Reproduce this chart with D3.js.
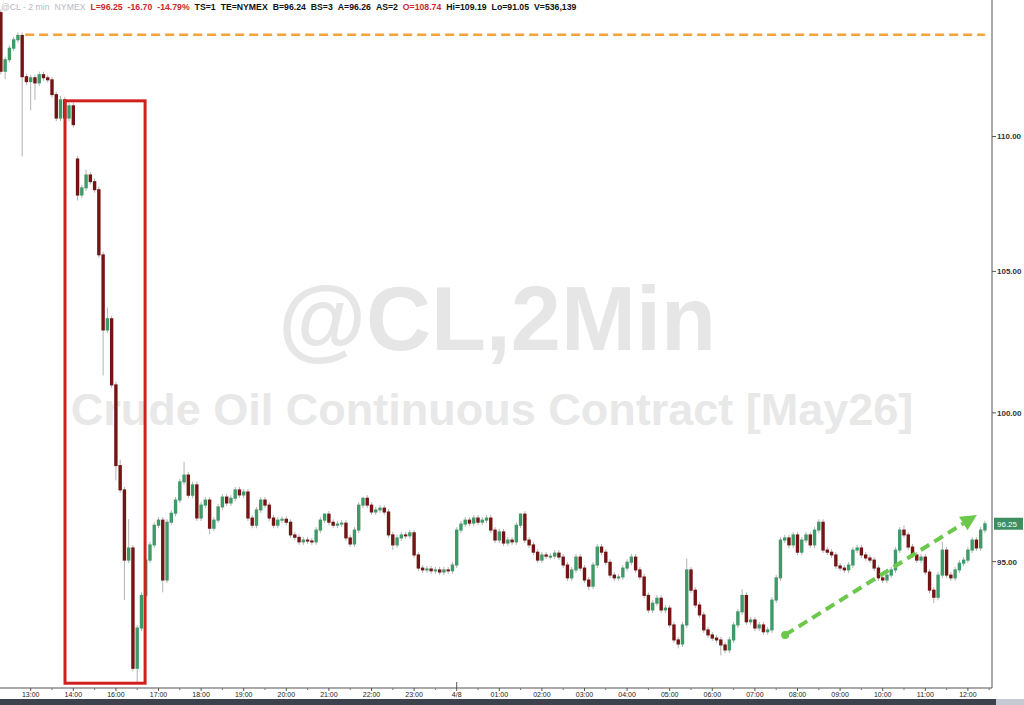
<!DOCTYPE html>
<html lang="en">
<head>
<meta charset="UTF-8">
<title>@CL - 2 min</title>
<script src="https://d3js.org/d3.v7.min.js"></script>
<style>
  body { margin: 0; background: #fff; }
  svg { display: block; font-family: "Liberation Sans", Arial, sans-serif; }
</style>
</head>
<body>
<svg id="chart" width="1024" height="705"></svg>
<script>
// 6-minute closes (bar 0 = 12:18)
const closes = [
  112.5, 112.95, 113.4, 113.73, 113.9, 112.29, 112.1, 112.25, 112.05, 112.37,
  112.25, 112.17, 111.6, 110.7, 111.4, 110.7, 111.17, 110.45, 107.8, 108.07,
  108.55, 108.3, 108.0, 105.6, 102.9, 103.3, 100.97, 98.2, 97.38, 95.05,
  95.45, 91.57, 92.85, 93.9, 95.05, 95.55, 96.2, 96.37, 94.4, 96.3,
  96.6, 97.04, 97.65, 97.88, 97.2, 97.55, 96.44, 96.87, 97.04, 96.1,
  96.37, 96.81, 97.14, 96.94, 97.1, 97.38, 97.21, 97.31, 96.44, 96.2,
  96.71, 97.04, 96.87, 96.44, 96.2, 96.37, 96.4, 96.3, 95.88, 95.8,
  95.65, 95.71, 95.68, 95.65, 96.04, 96.37, 96.57, 96.3, 96.2, 96.24,
  96.27, 95.78, 95.58, 96.04, 96.87, 97.1, 96.87, 96.64, 96.71, 96.77,
  96.64, 95.88, 95.55, 95.78, 95.88, 95.85, 95.95, 95.22, 94.79, 94.73,
  94.76, 94.7, 94.73, 94.66, 94.73, 94.7, 94.89, 96.04, 96.24, 96.37,
  96.27, 96.44, 96.3, 96.37, 96.44, 96.04, 95.71, 95.98, 95.61, 95.71,
  95.65, 96.2, 96.57, 95.71, 95.55, 95.31, 95.05, 95.22, 95.18, 95.18,
  95.28, 95.15, 94.89, 94.47, 94.73, 95.15, 94.79, 94.4, 94.2, 94.89,
  95.48, 95.31, 94.98, 94.56, 94.47, 94.5, 94.79, 94.98, 95.15, 94.73,
  94.5, 93.9, 93.43, 93.65, 93.81, 93.43, 93.49, 92.95, 92.47, 92.34,
  92.95, 94.73, 94.07, 93.59, 93.27, 92.79, 92.63, 92.53, 92.47, 92.31,
  92.15, 92.47, 92.95, 93.37, 93.9, 93.05, 93.11, 92.85, 92.95, 92.73,
  92.79, 93.75, 94.47, 95.71, 95.78, 95.55, 95.88, 95.31, 95.71, 95.88,
  95.55, 96.04, 96.3, 95.38, 95.31, 95.22, 94.86, 94.79, 94.73, 94.89,
  95.38, 95.45, 95.22, 95.12, 95.05, 94.79, 94.47, 94.4, 94.56, 94.73,
  95.38, 96.04, 95.88, 95.48, 95.22, 95.05, 95.15, 94.66, 94.07, 93.84,
  94.56, 95.38, 94.56, 94.47, 94.73, 94.95, 95.05, 95.38, 95.71, 95.45,
  96.04, 96.25
];
const firstOpen = 114.8;
const gapOpens = [[18, 109.15]];          // [bar, open] where price gapped
const wickHighs = [[14, 111.55], [20, 108.75], [25, 103.7], [28, 98.4], [30, 96.4],
  [43, 98.33], [76, 96.6], [85, 97.15], [122, 96.6], [161, 95.1], [174, 94.1],
  [212, 96.2], [221, 95.65]];
const wickLows = [[1, 112.2], [5, 109.25], [7, 111.0], [8, 111.4], [15, 110.35],
  [18, 107.6], [24, 101.3], [27, 97.7], [29, 93.75], [32, 91.08], [38, 94.0],
  [49, 95.9], [82, 95.48], [92, 95.38], [138, 94.07], [159, 92.2], [169, 91.98],
  [219, 93.65]];

const timeLabels = ["13:00", "14:00", "16:00", "17:00", "18:00", "19:00", "20:00",
  "21:00", "22:00", "23:00", "4/8", "01:00", "02:00", "03:00", "04:00", "05:00",
  "06:00", "07:00", "08:00", "09:00", "10:00", "11:00", "12:00"];
const priceTicks = [110, 105, 100, 95];
const lastPrice = 96.25;
const refLevel = 113.93;                 // orange dashed line
const refFromBar = 5.7, refToBar = 231;
const boxBars = [15.05, 33.85], boxPrices = [111.36, 91.1];
const trendStart = [184.1, 92.63], trendEnd = [229.1, 96.54];

const header = [
  ["@CL - 2 min", "#b9b9c2"], ["NYMEX", "#b9b9c2"],
  ["L=96.25", "#cc2a2a"], ["-16.70", "#cc2a2a"], ["-14.79%", "#cc2a2a"],
  ["TS=1", "#111"], ["TE=NYMEX", "#111"], ["B=96.24", "#111"], ["BS=3", "#111"],
  ["A=96.26", "#111"], ["AS=2", "#111"], ["O=108.74", "#cc2a2a"],
  ["Hi=109.19", "#111"], ["Lo=91.05", "#111"], ["V=536,139", "#111"]
];

const svg = d3.select("#chart");
const barsPerHour = 10, firstTickBar = 7;
const plotBottom = 688, axisX = 992;

const x = d3.scaleLinear().domain([0, 1]).range([0.88, 5.14]);
const y = d3.scaleLog().domain([90.95, 115.3]).range([plotBottom, 0]);

// watermark
svg.append("text").attr("x", 497).attr("y", 350).attr("text-anchor", "middle")
  .attr("font-size", 90).attr("font-weight", "bold").attr("fill", "#e6e6e6")
  .text("@CL,2Min");
svg.append("text").attr("x", 492).attr("y", 425).attr("text-anchor", "middle")
  .attr("font-size", 45).attr("font-weight", "bold").attr("fill", "#e8e8e8")
  .text("Crude Oil Continuous Contract [May26]");

// bars
const hiMap = new Map(wickHighs), loMap = new Map(wickLows), gapMap = new Map(gapOpens);
const bars = closes.map((c, i) => {
  const o = gapMap.has(i) ? gapMap.get(i) : (i === 0 ? firstOpen : closes[i - 1]);
  return { i, o, c, h: hiMap.get(i), l: loMap.get(i) };
});

const g = svg.append("g");
g.selectAll("line.wick").data(bars).enter().append("line")
  .attr("class", "wick")
  .attr("x1", d => x(d.i)).attr("x2", d => x(d.i))
  .attr("y1", d => d.h ? y(d.h) : y(Math.max(d.o, d.c)) - 3)
  .attr("y2", d => d.l ? y(d.l) : y(Math.min(d.o, d.c)) + 3)
  .attr("stroke", "#b3b3b3").attr("stroke-width", 1);

g.selectAll("rect.body").data(bars).enter().append("rect")
  .attr("class", "body")
  .attr("x", d => x(d.i) - 1.7).attr("width", 3.4)
  .attr("y", d => y(Math.max(d.o, d.c)) - 0.5)
  .attr("height", d => Math.max(2, Math.abs(y(d.o) - y(d.c)) + 1))
  .attr("fill", d => d.c >= d.o ? "#3f9a69" : "#741515");

// orange reference line
svg.append("line")
  .attr("x1", x(refFromBar)).attr("x2", x(refToBar))
  .attr("y1", y(refLevel)).attr("y2", y(refLevel))
  .attr("stroke", "#f2a33a").attr("stroke-width", 2.5)
  .attr("stroke-dasharray", "9,5");

// red box
svg.append("rect")
  .attr("x", x(boxBars[0])).attr("y", y(boxPrices[0]))
  .attr("width", x(boxBars[1]) - x(boxBars[0]))
  .attr("height", y(boxPrices[1]) - y(boxPrices[0]))
  .attr("fill", "none").attr("stroke", "#d11f1f").attr("stroke-width", 3);

// green trend arrow
const ax1 = x(trendStart[0]), ay1 = y(trendStart[1]);
const ax2 = x(trendEnd[0]), ay2 = y(trendEnd[1]);
const ang = Math.atan2(ay2 - ay1, ax2 - ax1);
const headLen = 16, headW = 8;
const bx = ax2 - headLen * Math.cos(ang), by = ay2 - headLen * Math.sin(ang);
svg.append("line")
  .attr("x1", ax1).attr("y1", ay1).attr("x2", bx).attr("y2", by)
  .attr("stroke", "#6bc84a").attr("stroke-width", 4)
  .attr("stroke-dasharray", "10,6");
svg.append("circle").attr("cx", ax1).attr("cy", ay1).attr("r", 4).attr("fill", "#6bc84a");
svg.append("polygon")
  .attr("points", [
    [ax2, ay2],
    [bx + headW * Math.sin(ang), by - headW * Math.cos(ang)],
    [bx - headW * Math.sin(ang), by + headW * Math.cos(ang)]
  ].map(p => p.join(",")).join(" "))
  .attr("fill", "#6bc84a");

// right price axis
svg.append("line").attr("x1", axisX).attr("x2", axisX).attr("y1", 0).attr("y2", plotBottom)
  .attr("stroke", "#555").attr("stroke-width", 1);
const yAxis = svg.append("g");
priceTicks.forEach(p => {
  yAxis.append("line").attr("x1", axisX).attr("x2", axisX + 4)
    .attr("y1", y(p)).attr("y2", y(p)).attr("stroke", "#555");
  yAxis.append("text").attr("x", axisX + 5).attr("y", y(p) + 3)
    .attr("font-size", 8).attr("font-weight", "bold").attr("fill", "#333")
    .text(p.toFixed(2));
});
svg.append("rect").attr("x", axisX + 2).attr("y", y(lastPrice) - 6)
  .attr("width", 29).attr("height", 12).attr("fill", "#3e8f60");
svg.append("text").attr("x", axisX + 5).attr("y", y(lastPrice) + 3)
  .attr("font-size", 8).attr("fill", "#fff").text(lastPrice.toFixed(2));

// bottom time axis
svg.append("line").attr("x1", 0).attr("x2", axisX).attr("y1", plotBottom).attr("y2", plotBottom)
  .attr("stroke", "#555");
const xAxis = svg.append("g");
timeLabels.forEach((t, k) => {
  const bx0 = x(firstTickBar + k * barsPerHour);
  const tall = t.indexOf("/") > 0;
  xAxis.append("line").attr("x1", bx0).attr("x2", bx0)
    .attr("y1", tall ? plotBottom - 6 : plotBottom).attr("y2", plotBottom + 3)
    .attr("stroke", "#555");
  const mx = x(firstTickBar + k * barsPerHour + barsPerHour / 2);
  if (mx < axisX) {
    xAxis.append("line").attr("x1", mx).attr("x2", mx)
      .attr("y1", plotBottom).attr("y2", plotBottom + 2).attr("stroke", "#777");
  }
  xAxis.append("text").attr("x", bx0).attr("y", 697).attr("text-anchor", "middle")
    .attr("font-size", 7).attr("fill", "#222").text(t);
});

// bottom scroll band
svg.append("rect").attr("x", 0).attr("y", 699).attr("width", 996).attr("height", 6).attr("fill", "#3b414d");
svg.append("rect").attr("x", 996).attr("y", 699).attr("width", 28).attr("height", 6).attr("fill", "#c5c9d1");

// header line
const head = svg.append("text").attr("x", 1).attr("y", 10)
  .attr("font-size", 8.7).attr("font-weight", "bold");
header.forEach((h, k) => {
  head.append("tspan").attr("dx", k === 0 ? 0 : 5)
    .attr("fill", h[1]).attr("font-weight", k < 2 ? "normal" : "bold")
    .text(h[0]);
});
</script>
</body>
</html>
